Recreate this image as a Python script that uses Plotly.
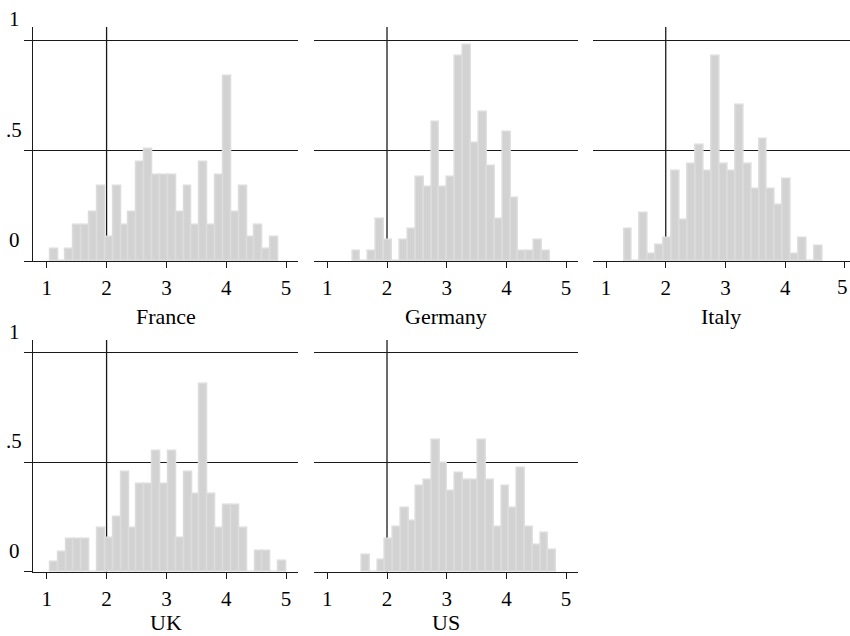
import plotly.graph_objects as go

# ---------------- data ----------------
countries = ["France", "Germany", "Italy", "UK", "US"]

france_start, france_width = 1.055, 0.1316
france_density = [0.054, 0.0, 0.054, 0.162, 0.162, 0.224, 0.338, 0.107, 0.338, 0.162,
                  0.224, 0.450, 0.505, 0.391, 0.391, 0.391, 0.224, 0.338, 0.162, 0.450,
                  0.162, 0.391, 0.837, 0.224, 0.338, 0.107, 0.162, 0.054, 0.107]

germany_start, germany_width = 1.42, 0.1324
germany_density = [0.045, 0.0, 0.045, 0.190, 0.094, 0.0, 0.094, 0.144, 0.382, 0.336,
                   0.629, 0.336, 0.382, 0.927, 0.976, 0.535, 0.674, 0.430, 0.190, 0.585,
                   0.285, 0.045, 0.045, 0.094, 0.045]

italy_start, italy_width = 1.303, 0.133
italy_density = [0.144, 0.0, 0.217, 0.030, 0.071, 0.103, 0.408, 0.185, 0.440, 0.524,
                 0.408, 0.927, 0.440, 0.408, 0.706, 0.440, 0.326, 0.553, 0.326, 0.255,
                 0.370, 0.030, 0.106, 0.0, 0.070]

uk_start, uk_width = 1.055, 0.1317
uk_density = [0.045, 0.089, 0.149, 0.149, 0.149, 0.0, 0.197, 0.151, 0.249, 0.455,
              0.197, 0.400, 0.400, 0.553, 0.400, 0.553, 0.151, 0.455, 0.353, 0.860,
              0.353, 0.197, 0.303, 0.303, 0.197, 0.0, 0.092, 0.092, 0.0, 0.046]

us_start, us_width = 1.58, 0.130
us_density = [0.076, 0.0, 0.053, 0.150, 0.204, 0.289, 0.230, 0.392, 0.418, 0.602,
              0.497, 0.369, 0.451, 0.418, 0.418, 0.602, 0.418, 0.204, 0.392, 0.289,
              0.472, 0.204, 0.122, 0.178, 0.099]

x_ticks = [1, 2, 3, 4, 5]
y_ticks = [0, 0.5, 1]
y_tick_labels = ["0", ".5", "1"]
x_reference_line = 2

# ---------------- figure ----------------
W, H = 850, 636
FONT = "Liberation Serif"
FS = 21
TFS = 22
LINE = "#1a1a1a"

series = [
    (france_start, france_width, france_density),
    (germany_start, germany_width, germany_density),
    (italy_start, italy_width, italy_density),
    (uk_start, uk_width, uk_density),
    (us_start, us_width, us_density),
]

# panel geometry in pixels: (left, right, top, bottom)
col_px = [(33.3, 298.0), (313.9, 578.0), (592.6, 850.0)]
row_px = [(27.0, 261.0), (340.0, 571.5)]
title_offset = [55, 51]
x_ranges = [[0.775, 5.2], [0.775, 5.2], [0.775, 5.086]]
y_range = [0, 1.059]
positions = [(0, 0), (0, 1), (0, 2), (1, 0), (1, 1)]

fig = go.Figure()
layout = dict(
    width=W, height=H, margin=dict(l=0, r=0, t=0, b=0),
    paper_bgcolor="white", plot_bgcolor="white",
    showlegend=False, bargap=0,
    font=dict(family=FONT, size=FS, color="black"),
)
annotations = []
shapes = []

for i, ((start, width, dens), (r, c), name) in enumerate(zip(series, positions, countries)):
    idx = "" if i == 0 else str(i + 1)
    xa, ya = "x" + idx, "y" + idx
    centers = [start + width * (k + 0.5) for k in range(len(dens))]
    fig.add_trace(go.Bar(
        x=centers, y=dens, width=[width] * len(dens),
        marker=dict(color="#d2d2d2", line=dict(color="#dcdcdc", width=1.5)),
        xaxis=xa, yaxis=ya, hoverinfo="skip",
    ))
    l, rr = col_px[c]
    t, b = row_px[r]
    edge_panel = (c == 2)
    layout["xaxis" + idx] = dict(
        domain=[l / W, rr / W], range=x_ranges[c], anchor=ya,
        showgrid=False, zeroline=False, showline=True, linecolor=LINE, linewidth=1.3,
        ticks="outside", ticklen=6, tickwidth=1.3, tickcolor=LINE,
        tickvals=x_ticks,
        ticktext=[("" if (edge_panel and v == x_ticks[-1]) else str(v)) for v in x_ticks],
        tickfont=dict(family=FONT, size=FS, color="black"),
        ticklabelstandoff=2,
    )
    if edge_panel:
        # last tick label sits on the right edge of the image
        annotations.append(dict(text=str(x_ticks[-1]), xref="paper", yref="paper",
                                x=1.0, y=1 - (b + 26) / H,
                                xanchor="right", yanchor="middle", showarrow=False,
                                font=dict(family=FONT, size=FS, color="black")))
    first_col = (c == 0)
    layout["yaxis" + idx] = dict(
        domain=[1 - b / H, 1 - t / H], range=y_range, anchor=xa,
        showgrid=True, gridcolor=LINE, gridwidth=1.3, zeroline=False,
        tickvals=y_ticks, showticklabels=False,
        showline=first_col, linecolor=LINE, linewidth=1.3,
        ticks="outside" if first_col else "", ticklen=8, tickwidth=1.3, tickcolor=LINE,
    )
    # vertical reference line at x = 2 (behind bars)
    shapes.append(dict(type="line", xref=xa, yref=ya + " domain",
                       x0=x_reference_line, x1=x_reference_line, y0=0, y1=1,
                       line=dict(color=LINE, width=1.3), layer="below"))
    # panel title
    annotations.append(dict(text=name, xref="paper", yref="paper",
                            x=(l + rr) / 2 / W, y=1 - (b + title_offset[r]) / H,
                            xanchor="center", yanchor="middle", showarrow=False,
                            font=dict(family=FONT, size=TFS, color="black")))
    # y tick labels (Stata draws them shifted upward)
    if first_col:
        for val, lab in zip(y_ticks, y_tick_labels):
            ypx = b - val * (b - t) / y_range[1] - 21
            annotations.append(dict(text=lab, xref="paper", yref="paper",
                                    x=14 / W, y=1 - ypx / H,
                                    xanchor="center", yanchor="middle", showarrow=False,
                                    font=dict(family=FONT, size=FS, color="black")))

layout["annotations"] = annotations
layout["shapes"] = shapes
fig.update_layout(**layout)
fig.write_html("out.html", config={"displayModeBar": False},
               post_script="document.body.style.margin='0';document.body.style.overflow='hidden';")
